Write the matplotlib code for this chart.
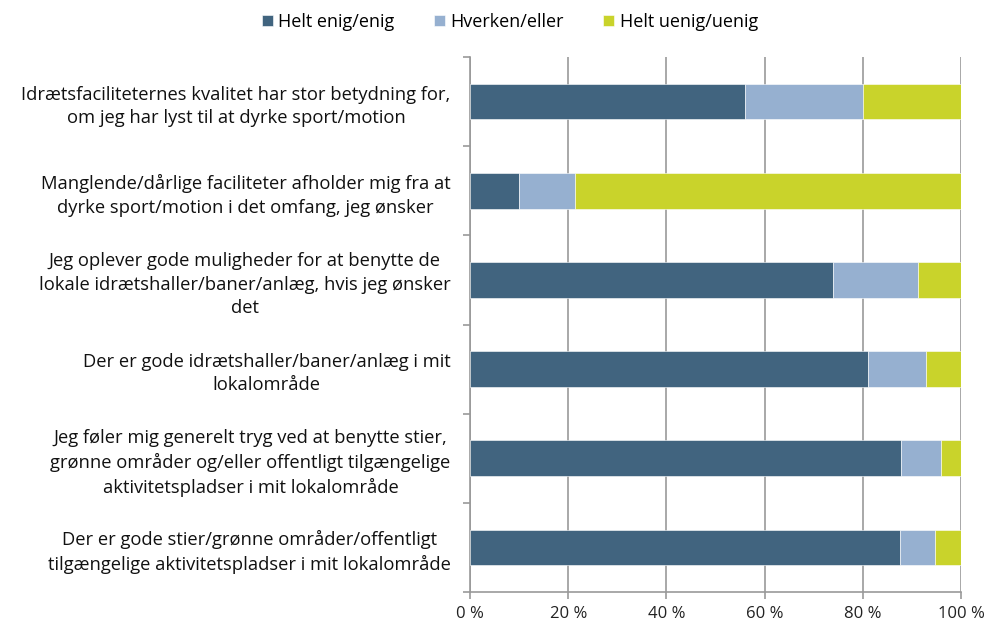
import matplotlib
matplotlib.use("Agg")
import matplotlib.pyplot as plt
import numpy as np

categories = [
    "Idrætsfaciliteternes kvalitet har stor betydning for,\nom jeg har lyst til at dyrke sport/motion",
    "Manglende/dårlige faciliteter afholder mig fra at\ndyrke sport/motion i det omfang, jeg ønsker",
    "Jeg oplever gode muligheder for at benytte de\nlokale idrætshaller/baner/anlæg, hvis jeg ønsker\ndet",
    "Der er gode idrætshaller/baner/anlæg i mit\nlokalområde",
    "Jeg føler mig generelt tryg ved at benytte stier,\ngrønne områder og/eller offentligt tilgængelige\naktivitetspladser i mit lokalområde",
    "Der er gode stier/grønne områder/offentligt\ntilgængelige aktivitetspladser i mit lokalområde",
]
series_names = ["Helt enig/enig", "Hverken/eller", "Helt uenig/uenig"]
enig = [56.1, 10.0, 73.9, 81.1, 87.8, 87.6]
hverken = [24.0, 11.3, 17.3, 11.8, 8.1, 7.2]
uenig = [19.9, 78.7, 8.8, 7.1, 4.1, 5.2]
xtick_labels = ["0 %", "20 %", "40 %", "60 %", "80 %", "100 %"]

colors = ["#41647F", "#96B0D0", "#C9D32B"]

plt.rcParams['font.family'] = ['Open Sans', 'DejaVu Sans']

fig = plt.figure(figsize=(9.9, 6.24), dpi=100)
ax = fig.add_axes([470/990, 1-592/624, (961-470)/990, (592-57)/624])

y = np.arange(len(categories))
left = np.zeros(len(categories))
for vals, name, c in zip([enig, hverken, uenig], series_names, colors):
    ax.barh(y, vals, left=left, height=0.40, color=c, label=name, zorder=3,
            edgecolor='white', linewidth=0.4)
    left += np.array(vals)

ax.set_xlim(0, 100)
ax.set_ylim(len(categories)-0.5, -0.5)
ax.set_xticks([0, 20, 40, 60, 80, 100])
ax.set_xticklabels(xtick_labels, fontsize=12, color='#222222')
ax.set_yticks(y)
ax.set_yticklabels(categories, fontsize=13.2, color='#111111', ha='right',
                   multialignment='center', linespacing=1.38)
ax.tick_params(axis='y', length=0, pad=14)
ax.set_yticks(np.arange(-0.5, len(categories), 1), minor=True)
ax.tick_params(axis='y', which='minor', length=5, color='#999999', width=1.2)
ax.tick_params(axis='x', length=5, color='#999999', width=1.2, pad=5)
ax.grid(axis='x', color='#999999', linewidth=1.2, zorder=0)
for s in ['top', 'right']:
    ax.spines[s].set_visible(False)
for s in ['left', 'bottom']:
    ax.spines[s].set_color('#999999')
    ax.spines[s].set_linewidth(1.2)

fig.legend(loc='upper center', bbox_to_anchor=(0.515, 1.005), ncol=3, frameon=False,
           fontsize=13, handlelength=0.6, handleheight=0.6, handletextpad=0.3,
           columnspacing=2.2)

fig.savefig("out.png", dpi=100)
